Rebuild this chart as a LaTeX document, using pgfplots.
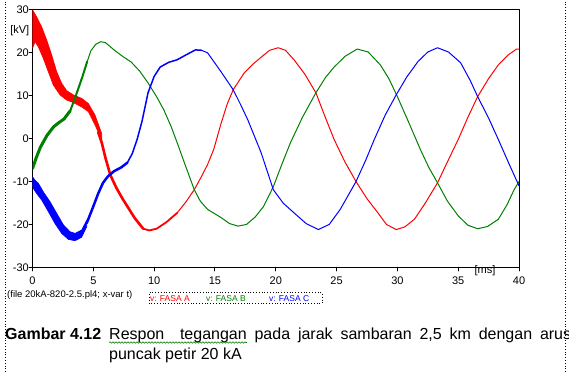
\documentclass[border=0pt]{standalone}
\usepackage{fontspec}
\setmainfont{Liberation Sans}
\usepackage{pgfplots}
\pgfplotsset{compat=1.18}
\usetikzlibrary{decorations.pathmorphing}
\definecolor{cR}{RGB}{255,0,0}
\definecolor{cG}{RGB}{0,128,0}
\definecolor{cB}{RGB}{0,0,255}
\newcommand\tickfont{\fontsize{11}{13}\selectfont}
\begin{document}
\begin{tikzpicture}
\useasboundingbox (0,0) rectangle (569pt,372pt);
\fill[white] (0,0) rectangle (569pt,372pt);
\begin{axis}[
  at={(32.5pt,104.7pt)}, anchor=south west,
  scale only axis, width=486.5pt, height=257.3pt,
  xmin=0, xmax=40, ymin=-30, ymax=30,
  xtick={0,5,...,40}, ytick={-30,-20,...,30},
  xtick pos=bottom, ytick pos=left, tick align=outside,
  major tick length=3.5pt,
  axis line style={line width=1pt},
  every tick/.style={black, line width=1pt},
  ticklabel style={font=\tickfont},
  yticklabel style={inner xsep=0pt},
  xticklabel style={yshift=-2.5pt},
  /pgf/number format/assume math mode=true,
  line join=round, line cap=round,
]
% ---- Phase A (red): transient band, thick part, steady part
\addplot[draw=cR, fill=cR, line width=0.6pt] coordinates {
 (0.01,30.0) (0.34,28.4) (0.75,26.1) (1.17,23.0) (1.58,19.5) (1.99,15.6)
 (2.40,12.9) (2.81,11.2) (3.36,10.2) (4.04,9.4) (4.59,8.2) (5.14,5.5) (5.69,1.2)
 (5.69,-0.3) (5.14,3.2) (4.59,6.3) (4.04,7.4) (3.36,8.4) (2.81,9.0) (2.26,10.2)
 (1.71,12.5) (1.30,15.6) (0.89,18.7) (0.48,21.4) (0.21,22.6) (0.01,21.1)
} -- cycle;
\addplot[cR, line width=2.6pt] coordinates {
 (5.4,1.5) (5.7,-1) (6.0,-4.5) (6.4,-8.5) (6.9,-11.5) (7.4,-14) (7.8,-15.8) (8.4,-18.5) (9.1,-21)
};
\addplot[cR, line width=1.8pt] coordinates {
 (9.1,-21) (9.6,-21.4) (10.2,-21) (11,-19.5) (11.9,-17.3)
};
\addplot[cR, line width=1pt] coordinates {
 (11.9,-17.3) (12.6,-14.8) (13.3,-11.9) (13.9,-8.8) (14.4,-6) (14.9,-2.5) (15.5,3.5)
 (16,8) (16.5,11.4) (17.4,15.3) (18.1,17.3) (18.8,19) (19.5,20.6) (20.2,21.2)
 (20.8,20.6) (21.5,18.4) (22.4,15) (23.3,10.7) (24.0,5.5) (24.8,-0.2) (25.7,-5.5)
 (26.6,-10) (27.5,-14) (28.4,-17.3) (29.1,-20) (29.9,-21.2) (30.6,-20.6) (31.4,-18.8)
 (32.3,-15) (33.3,-10.3) (34.1,-5.5) (35,-0.2) (35.8,5) (36.6,9.8) (37.5,14)
 (38.3,17.2) (39.1,19.5) (39.8,20.9) (40,20.9)
};
% ---- Phase B (green)
\addplot[cG, line width=3pt] coordinates {
 (0,-7) (0.3,-4.5) (0.65,-2) (1.2,0.8) (1.75,2.8) (2.2,3.8) (2.6,4.6) (3.1,6.5)
};
\addplot[cG, line width=2pt] coordinates {
 (3.1,6.5) (3.5,9.5) (4.1,14.4) (4.5,18)
};
\addplot[cG, line width=1pt] coordinates {
 (4.5,18) (4.8,20.5) (5.2,22) (5.6,22.6) (6.0,22.4) (6.7,20.7) (7.4,19.2) (8.1,17.9)
 (8.8,15.8) (9.5,13) (10.2,9.8) (10.8,6.7) (11.4,2.8) (11.9,-1) (12.6,-6.5)
 (13.3,-11.9) (13.8,-14.6) (14.4,-16.5) (15.5,-18.4) (16.2,-19.8) (16.9,-20.4)
 (17.6,-20) (18.3,-18.3) (19,-15.8) (19.8,-11.2) (20.5,-6) (21.2,-1) (22.2,5)
 (23.3,10.7) (24.1,14.3) (24.8,16.7) (25.7,19.2) (26.7,20.9) (27.6,20.2) (28.6,17.2)
 (29.3,14) (30,9.8) (30.9,4) (31.9,-2.6) (32.6,-6.8) (33.3,-10.3) (34.1,-14.5)
 (35,-18) (35.8,-20.2) (36.6,-21) (37.4,-20.5) (38.3,-18.8) (39,-15.5) (39.6,-11.9) (40,-10)
};
% ---- Phase C (blue)
\addplot[draw=cB, fill=cB, line width=0.6pt] coordinates {
 (0.01,-8.9) (0.21,-9.7) (0.48,-10.4) (0.89,-12.4) (1.44,-14.7) (1.99,-17.4)
 (2.54,-20.1) (3.08,-21.7) (3.5,-22.1) (4.04,-21.3) (4.46,-19.0)
 (4.46,-20.5) (4.04,-23.0) (3.5,-23.8) (2.95,-23.5) (2.40,-22.1) (1.85,-19.8)
 (1.30,-17.0) (0.75,-14.3) (0.34,-12.8) (0.07,-11.6) (0.01,-10.8)
} -- cycle;
\addplot[cB, line width=2.5pt] coordinates {
 (4.46,-19.7) (5.0,-15.8) (5.4,-12.8) (5.8,-10.3) (6.2,-8.8) (6.7,-7.6) (7.3,-6.7) (7.8,-5.6)
};
\addplot[cB, line width=1.5pt] coordinates {
 (7.8,-5.6) (8.2,-3.5) (8.6,-0.2) (9.0,4) (9.5,10.7) (10.0,14.5) (10.5,16.7)
 (11.2,17.8) (11.9,18.4) (12.6,19.5) (13.4,20.7) (13.9,20.6)
};
\addplot[cB, line width=1pt] coordinates {
 (13.9,20.6) (14.4,20) (14.8,18.4) (15.5,15.6) (16.5,11.4) (17.1,8) (17.7,4.4)
 (18.8,-3.3) (19.8,-11.9) (20.6,-15) (21.5,-17.3) (22.5,-19.8) (23.5,-21.2)
 (24.4,-20) (25.3,-16.5) (26,-13) (26.6,-10) (27.4,-5) (28.1,-0.2) (29,5.5)
 (29.9,10.2) (30.8,14.5) (31.7,18) (32.5,20.2) (33.3,21.2) (34.2,20.2) (35.2,17.7)
 (36,13.5) (36.6,9.8) (37.5,4.8) (38.3,-0.2) (39.2,-6) (40,-11)
};
\end{axis}
% axis unit labels
\node[anchor=east, inner sep=0pt, font=\tickfont] at (29.5pt,341pt) {[kV]};
\node[inner sep=0pt, font=\tickfont] at (485pt,101pt) {[ms]};
% file note and legend box
\node[anchor=base west, inner sep=0pt, font=\fontsize{9.5}{11}\selectfont] at (7pt,74.5pt) {(file 20kA-820-2.5.pl4; x-var t)};
\draw[dotted, line width=0.8pt] (149pt,68.7pt) rectangle (322pt,79.3pt);
\begin{scope}[every node/.style={anchor=base west, inner sep=0pt, font=\fontsize{8.5}{10}\selectfont}]
\node[text=cR] at (150pt,70.5pt) {v: FASA A};
\node[text=cG] at (206pt,70.5pt) {v: FASA B};
\node[text=cB] at (269pt,70.5pt) {v: FASA C};
\end{scope}
% page borders
\draw[dotted, line width=0.8pt] (5pt,0pt) -- (5pt,372pt);
\draw[dotted, line width=0.8pt] (565pt,0pt) -- (565pt,372pt);
% caption
\node[anchor=base west, inner sep=0pt, font=\fontsize{16}{19}\selectfont\bfseries] at (5pt,33pt) {\makebox[96pt][s]{Gambar 4.12}};
\node[anchor=base west, inner sep=0pt, font=\fontsize{16}{19}\selectfont] at (109pt,33pt) {\makebox[462pt][s]{Respon\ \ tegangan pada jarak sambaran 2,5 km dengan arus}};
\node[anchor=base west, inner sep=0pt, font=\fontsize{16}{19}\selectfont] at (109pt,12.4pt) {puncak petir 20 kA};
\draw[decorate, decoration={snake, amplitude=0.7pt, segment length=3pt}, cG, line width=0.6pt] (109pt,29.5pt) -- (247pt,29.5pt);
\end{tikzpicture}
\end{document}
